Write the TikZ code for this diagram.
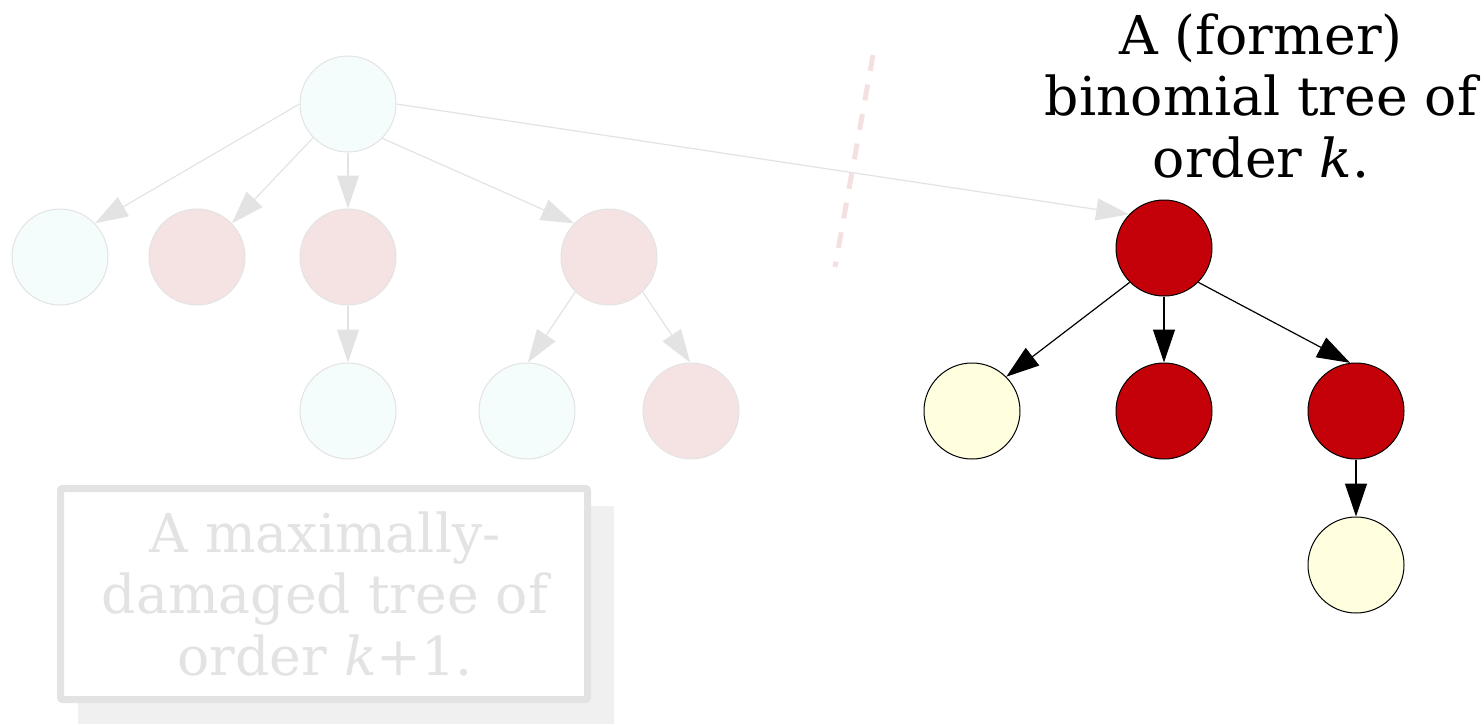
\documentclass[tikz,border=0pt]{standalone}
\usepackage{fontspec}
\setmainfont{DejaVu Serif}
\usetikzlibrary{arrows.meta}
\definecolor{rednode}{HTML}{C40009}
\definecolor{yelnode}{HTML}{FFFFE0}
\definecolor{azpale}{HTML}{F5FCFC}
\definecolor{pkpale}{HTML}{F5E3E3}
\definecolor{palegray}{HTML}{E3E3E3}
\definecolor{shadowgray}{HTML}{F0F0F0}
\definecolor{dashpink}{HTML}{F5E0E0}
\begin{document}
\begin{tikzpicture}[x=0.5pt,y=-0.5pt,
  tnode/.style={circle,minimum size=48pt,inner sep=0pt,line width=0.5pt,draw=black},
  pnode/.style={circle,minimum size=48pt,inner sep=0pt,line width=0.5pt,draw=palegray},
  redn/.style={tnode,fill=rednode},
  yeln/.style={tnode,fill=yelnode},
  azn/.style={pnode,fill=azpale},
  pkn/.style={pnode,fill=pkpale},
  blackedge/.style={line width=0.6pt,draw=black,-{Triangle[length=16.5pt,width=11pt]}},
  paleedge/.style={line width=0.6pt,draw=palegray,-{Triangle[length=16.5pt,width=11pt]}},
  bigtext/.style={align=center,inner sep=0pt,font=\fontsize{26.8}{30.7}\selectfont}
]
\useasboundingbox (0,0) rectangle (1484,724);

% shadow and box
\fill[shadowgray] (78,506) rectangle (614,724);
\draw[palegray,line width=3.5pt,fill=white,rounded corners=1pt] (60.5,488.5) rectangle (587.5,699.5);
\node[bigtext,text=palegray,anchor=base] (boxtxt) at (325,675) {A maximally-\\damaged tree of\\order \textit{k}+1.};

% dashed separator
\draw[dashpink,line width=2.5pt,dash pattern=on 8pt off 7pt] (873,55) -- (835,267);

% left (pale) tree
\node[azn] (lr) at (348,104) {};
\node[azn] (l1) at (60,257) {};
\node[pkn] (l2) at (197,257) {};
\node[pkn] (l3) at (348,257) {};
\node[pkn] (l4) at (609,257) {};
\node[azn] (l5) at (348,411) {};
\node[azn] (l6) at (527,411) {};
\node[pkn] (l7) at (691,411) {};

% right tree
\node[redn] (rr) at (1164,248) {};
\node[yeln] (r1) at (972,411) {};
\node[redn] (r2) at (1164,411) {};
\node[redn] (r3) at (1356,411) {};
\node[yeln] (r4) at (1356,565) {};

% title
\node[bigtext,anchor=base] (title) at (1261,177) {A (former)\\binomial tree of\\order \textit{k}.};

% pale edges
\draw[paleedge] (lr.west) -- (l1.44);
\draw[paleedge] (lr.224) -- (l2.44);
\draw[paleedge] (lr.south) -- (l3.north);
\draw[paleedge] (lr.-45) -- (l4.136);
\draw[paleedge] (lr.east) -- (rr.136);
\draw[paleedge] (l3.south) -- (l5.north);
\draw[paleedge] (l4.226) -- (l6.89);
\draw[paleedge] (l4.-46) -- (l7.91);

% black edges
\draw[blackedge] (rr.225) -- (r1.45);
\draw[blackedge] (rr.south) -- (r2.north);
\draw[blackedge] (rr.-45) -- (r3.97);
\draw[blackedge] (r3.south) -- (r4.north);
\end{tikzpicture}
\end{document}
